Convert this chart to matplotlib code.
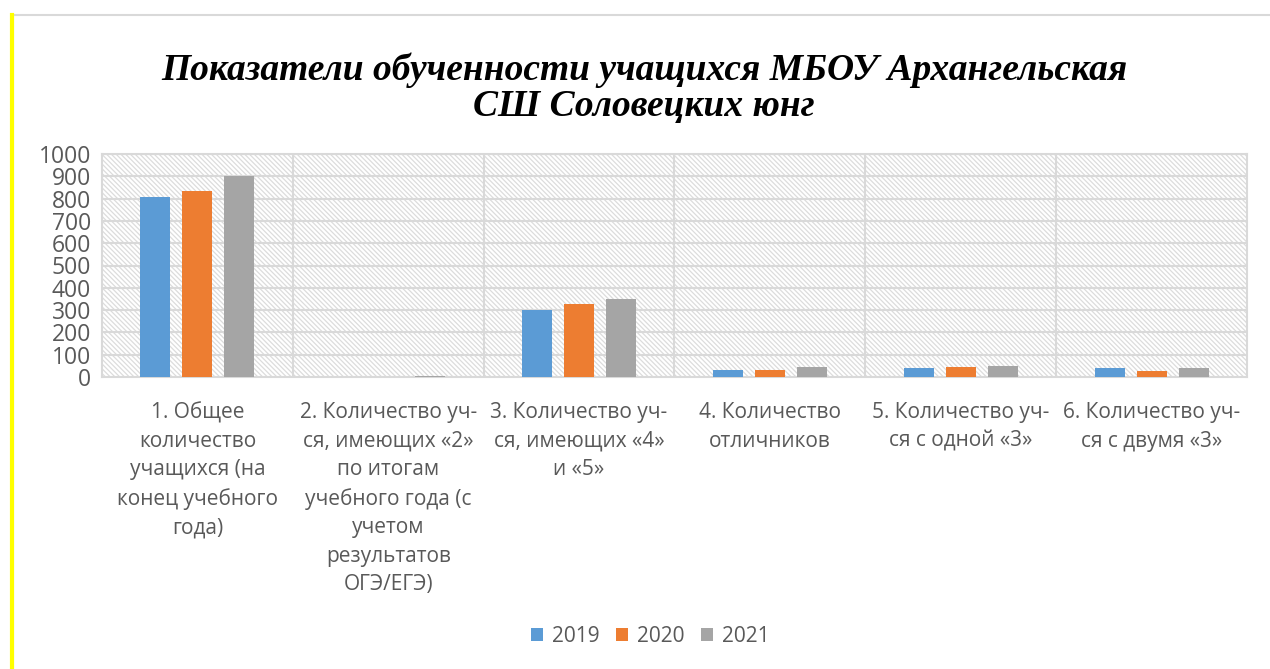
import matplotlib
matplotlib.use("Agg")
import matplotlib.pyplot as plt
import numpy as np
from matplotlib.patches import Rectangle
from matplotlib.lines import Line2D

# data
categories = [
    "1. Общее\nколичество\nучащихся (на\nконец учебного\nгода)",
    "2. Количество уч-\nся, имеющих «2»\nпо итогам\nучебного года (с\nучетом\nрезультатов\nОГЭ/ЕГЭ)",
    "3. Количество уч-\nся, имеющих «4»\nи «5»",
    "4. Количество\nотличников",
    "5. Количество уч-\nся с одной «3»",
    "6. Количество уч-\nся с двумя «3»",
]
years = ["2019", "2020", "2021"]
vals_2019 = [807, 0, 300, 31, 40, 40]
vals_2020 = [834, 2, 327, 33, 43, 26]
vals_2021 = [901, 4, 350, 43, 51, 39]
colors = ["#5b9bd5", "#ed7d31", "#a5a5a5"]

plt.rcParams['font.family'] = ['Open Sans', 'DejaVu Sans']
plt.rcParams['hatch.linewidth'] = 0.9

fig = plt.figure(figsize=(12.7, 6.69), dpi=100)

# chart frame + yellow margin line
fig.add_artist(Rectangle((13/1270, -0.01), 1.0, 1 - 15/669 + 0.01, transform=fig.transFigure,
                         fill=False, edgecolor="#d9d9d9", linewidth=1.5))
fig.add_artist(Line2D([12/1270, 12/1270], [0, 1 - 15/669], transform=fig.transFigure,
                      color="#ffff00", linewidth=3))

ax = fig.add_axes([102/1270, 1 - 377/669, (1247 - 102)/1270, (377 - 154)/669])
ax.patch.set_alpha(0)
ax.add_patch(Rectangle((0, 0), 1, 1, transform=ax.transAxes, facecolor="white",
                       edgecolor="#dcdcdc", hatch="\\" * 7, linewidth=0, zorder=0))

x = np.arange(len(categories))
step = 0.22
width = 0.157
for i, (vals, c, y) in enumerate(zip([vals_2019, vals_2020, vals_2021], colors, years)):
    ax.bar(x + (i - 1) * step, vals, width, color=c, label=y, zorder=3)

ax.set_xlim(-0.5, len(categories) - 0.5)
ax.set_ylim(0, 1000)
ax.set_yticks(range(0, 1001, 100))
for yv in range(100, 1001, 100):
    ax.axhline(yv, color="#d9d9d9", linewidth=1.5, zorder=1)
for xv in np.arange(0.5, len(categories) - 0.5, 1):
    ax.axvline(xv, color="#d9d9d9", linewidth=1.5, zorder=1)

for s in ax.spines.values():
    s.set_color("#d9d9d9")
    s.set_linewidth(1.5)

ax.set_xticks(x)
ax.set_xticklabels(categories, fontsize=15, color="#595959", linespacing=1.47)
ax.tick_params(axis='x', length=0, pad=18)
ax.tick_params(axis='y', length=0, labelsize=16.5, labelcolor="#595959", pad=8)

fig.text(644/1270, 1 - 88/669, "Показатели обученности учащихся МБОУ Архангельская\nСШ Соловецких юнг",
         ha="center", va="center", family="Liberation Serif", fontsize=27,
         fontweight="bold", fontstyle="italic", linespacing=1.05)

fig.legend(loc="center", bbox_to_anchor=(650/1270, 1 - 636/669), ncol=3, frameon=False,
           fontsize=15, handlelength=0.6, handleheight=0.6, handletextpad=0.4,
           columnspacing=0.8, labelcolor="#595959")

fig.savefig("out.png", dpi=100)
